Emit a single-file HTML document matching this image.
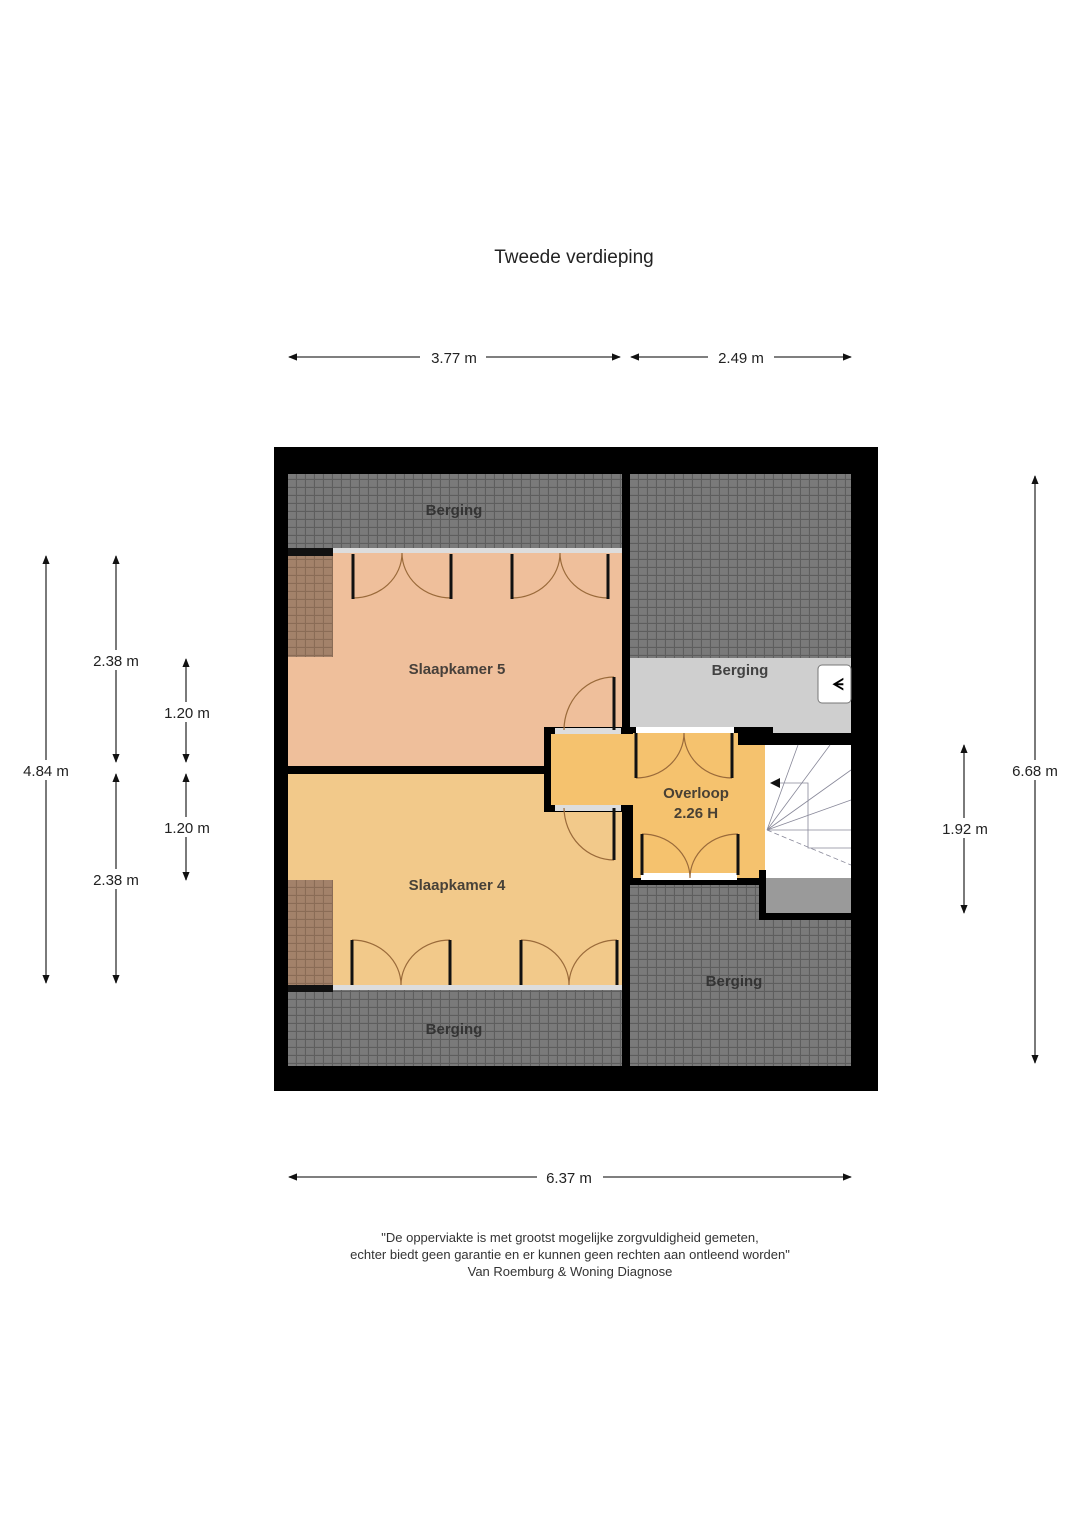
<!DOCTYPE html>
<html><head><meta charset="utf-8"><style>
body{margin:0;background:#fff}
svg{display:block}
text{font-family:"Liberation Sans",sans-serif}
</style></head><body>
<svg width="1080" height="1528" viewBox="0 0 1080 1528" xmlns="http://www.w3.org/2000/svg">
<defs>
<pattern id="t" width="9" height="8" patternUnits="userSpaceOnUse">
<rect width="9" height="8" fill="#7a7a7a"/>
<path d="M0 7.5H9M8.5 0V8" stroke="#5e5e5e" stroke-width="1.2"/>
</pattern>
<pattern id="b" width="9" height="8" patternUnits="userSpaceOnUse">
<rect width="9" height="8" fill="#a3826a"/>
<path d="M0 7.5H9M8.5 0V8" stroke="#8a6c56" stroke-width="1.2"/>
</pattern>
<marker id="a" viewBox="0 0 10 10" refX="9" refY="5" markerWidth="7" markerHeight="7" orient="auto-start-reverse"><path d="M0 1L10 5L0 9z" fill="#111"/></marker>
</defs>
<text x="574" y="263" font-size="19" text-anchor="middle" fill="#222">Tweede verdieping</text>
<g stroke="#333" stroke-width="1.3" marker-start="url(#a)" marker-end="url(#a)" fill="none">
<line x1="289" y1="357" x2="620" y2="357"/>
<line x1="631" y1="357" x2="851" y2="357"/>
<line x1="289" y1="1177" x2="851" y2="1177"/>
<line x1="46" y1="556" x2="46" y2="983"/>
<line x1="116" y1="556" x2="116" y2="762"/>
<line x1="116" y1="774" x2="116" y2="983"/>
<line x1="186" y1="659" x2="186" y2="762"/>
<line x1="186" y1="774" x2="186" y2="880"/>
<line x1="964" y1="745" x2="964" y2="913"/>
<line x1="1035" y1="476" x2="1035" y2="1063"/>
</g>
<g font-size="15" fill="#222" text-anchor="middle">
<rect x="420" y="347" width="66" height="20" fill="#fff"/><text x="454" y="363">3.77 m</text>
<rect x="708" y="347" width="66" height="20" fill="#fff"/><text x="741" y="363">2.49 m</text>
<rect x="537" y="1167" width="66" height="20" fill="#fff"/><text x="569" y="1183">6.37 m</text>
<rect x="14" y="760" width="66" height="20" fill="#fff"/><text x="46" y="776">4.84 m</text>
<rect x="84" y="650" width="66" height="20" fill="#fff"/><text x="116" y="666">2.38 m</text>
<rect x="84" y="869" width="66" height="20" fill="#fff"/><text x="116" y="885">2.38 m</text>
<rect x="154" y="702" width="66" height="20" fill="#fff"/><text x="187" y="718">1.20 m</text>
<rect x="154" y="817" width="66" height="20" fill="#fff"/><text x="187" y="833">1.20 m</text>
<rect x="932" y="818" width="66" height="20" fill="#fff"/><text x="965" y="834">1.92 m</text>
<rect x="1002" y="760" width="66" height="20" fill="#fff"/><text x="1035" y="776">6.68 m</text>
</g>
<rect x="274" y="447" width="604" height="644" fill="#000"/>
<rect x="288" y="474" width="563" height="592" fill="url(#t)"/>
<rect x="622" y="474" width="8" height="592" fill="#000"/>
<rect x="288" y="548" width="334" height="218" fill="#efbf9b"/>
<rect x="288" y="774" width="334" height="214" fill="#f2c98a"/>
<rect x="288" y="766" width="264" height="8" fill="#000"/>
<rect x="288" y="548" width="45" height="8" fill="#111"/>
<rect x="288" y="556" width="45" height="101" fill="url(#b)"/>
<rect x="288" y="985" width="45" height="7" fill="#111"/>
<rect x="288" y="880" width="45" height="105" fill="url(#b)"/>
<rect x="333" y="548" width="289" height="5" fill="#ddd"/>
<rect x="333" y="985" width="289" height="5" fill="#ddd"/>
<rect x="630" y="658" width="221" height="75" fill="#cfcfcf"/>
<rect x="818" y="665" width="33" height="38" rx="4" fill="#fff" stroke="#777"/>
<text x="838" y="690" font-size="16" text-anchor="middle" font-weight="bold">ᗕ</text>
<rect x="544" y="727" width="90" height="85" fill="#000"/>
<rect x="625" y="727" width="148" height="158" fill="#000"/>
<rect x="551" y="734" width="82" height="71" fill="#f5c26e"/>
<rect x="633" y="733" width="132" height="145" fill="#f5c26e"/>
<rect x="555" y="728" width="66" height="6" fill="#ddd"/>
<rect x="555" y="805" width="66" height="6" fill="#ddd"/>
<rect x="636" y="727" width="98" height="6" fill="#fff"/>
<rect x="641" y="873" width="96" height="7" fill="#fff"/>
<rect x="738" y="733" width="113" height="12" fill="#000"/>
<rect x="765" y="745" width="86" height="133" fill="#fff"/>
<rect x="765" y="878" width="86" height="37" fill="#9a9a9a"/>
<rect x="759" y="870" width="7" height="50" fill="#000"/>
<rect x="759" y="913" width="92" height="7" fill="#000"/>
<g stroke="#889" stroke-width="0.8" fill="none">
<path d="M767 830L798 745M767 830L830 745M767 830L851 770M767 830L851 800M767 830L851 830"/>
<path d="M767 830L851 865" stroke-dasharray="5 3"/>
<path d="M778 783H808V848H851"/>
</g>
<path d="M770 783l10-5v10z" fill="#111"/>
<g stroke="#9a6a3a" stroke-width="1.2" fill="none">
<path d="M353 598A49 45 0 0 0 402 553A49 45 0 0 0 451 598"/>
<path d="M512 598A48 45 0 0 0 560 553A48 45 0 0 0 608 598"/>
<path d="M352 940A49 45 0 0 1 401 985A49 45 0 0 1 450 940"/>
<path d="M521 940A48 45 0 0 1 569 985A48 45 0 0 1 617 940"/>
<path d="M614 677A50 53 0 0 0 564 730"/>
<path d="M614 860A50 53 0 0 1 564 808"/>
<path d="M636 778A48 45 0 0 0 684 733A48 45 0 0 0 732 778"/>
<path d="M642 834A48 44 0 0 1 690 878A48 44 0 0 1 738 834"/>
</g>
<g stroke="#111" stroke-width="3">
<path d="M353 554V599M451 554V599M512 554V599M608 554V599"/>
<path d="M352 940V985M450 940V985M521 940V985M617 940V985"/>
<path d="M614 677V730M614 808V860"/>
<path d="M636 733V778M732 733V778M642 834V875M738 834V875"/>
</g>
<g font-size="15" fill="#2a2a2a" text-anchor="middle" font-weight="bold" opacity="0.85">
<text x="454" y="515">Berging</text>
<text x="740" y="675">Berging</text>
<text x="734" y="986">Berging</text>
<text x="454" y="1034">Berging</text>
<text x="457" y="674">Slaapkamer 5</text>
<text x="457" y="890">Slaapkamer 4</text>
<text x="696" y="798">Overloop</text>
<text x="696" y="818">2.26 H</text>
</g>
<g font-size="13" fill="#333" text-anchor="middle">
<text x="570" y="1242">"De opperviakte is met grootst mogelijke zorgvuldigheid gemeten,</text>
<text x="570" y="1259">echter biedt geen garantie en er kunnen geen rechten aan ontleend worden"</text>
<text x="570" y="1276">Van Roemburg &amp; Woning Diagnose</text>
</g>
</svg>
</body></html>
